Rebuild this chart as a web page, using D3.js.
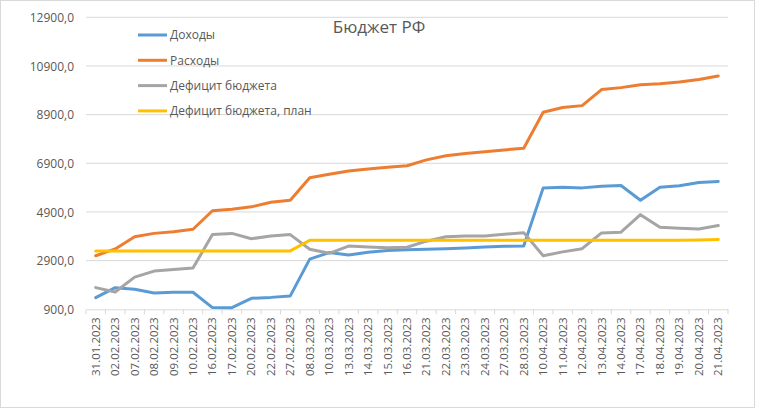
<!DOCTYPE html>
<html><head><meta charset="utf-8">
<script src="https://cdn.jsdelivr.net/npm/d3@7"></script>
<style>body{margin:0;background:#fff;} text{font-family:"Open Sans","Noto Sans",Arial,sans-serif;}</style>
</head><body><svg id="c" width="758" height="410"></svg>
<script>
const categories = ["31.01.2023","02.02.2023","07.02.2023","08.02.2023","09.02.2023","10.02.2023","16.02.2023","17.02.2023","20.02.2023","22.02.2023","27.02.2023","08.03.2023","10.03.2023","13.03.2023","14.03.2023","15.03.2023","16.03.2023","21.03.2023","22.03.2023","23.03.2023","24.03.2023","27.03.2023","28.03.2023","10.04.2023","11.04.2023","12.04.2023","13.04.2023","14.04.2023","17.04.2023","18.04.2023","19.04.2023","20.04.2023","21.04.2023"];
const incomes = [1380,1790,1720,1570,1600,1600,970,965,1350,1390,1450,2960,3230,3130,3240,3320,3350,3370,3390,3420,3460,3490,3500,5890,5920,5890,5960,5990,5380,5920,5980,6110,6150];
const expenses = [3100,3380,3880,4020,4090,4190,4950,5010,5110,5300,5380,6310,6450,6580,6670,6740,6800,7040,7210,7300,7370,7450,7520,9000,9190,9270,9930,10010,10130,10170,10240,10340,10490];
const deficit = [1790,1610,2220,2470,2540,2600,3970,4020,3800,3910,3970,3370,3200,3500,3460,3430,3450,3700,3880,3910,3910,3980,4050,3100,3260,3390,4040,4070,4790,4270,4230,4200,4340];
const deficitPlan = [3300,3300,3300,3300,3300,3300,3300,3300,3300,3300,3300,3740,3740,3740,3740,3740,3740,3740,3740,3740,3740,3740,3740,3740,3740,3740,3740,3740,3740,3740,3740,3750,3770];
const yTicks = [900,2900,4900,6900,8900,10900,12900];
const seriesNames = ["Доходы","Расходы","Дефицит бюджета","Дефицит бюджета, план"];
const seriesColors = ["#5B9BD5","#ED7D31","#A5A5A5","#FFC000"];
const seriesData = [incomes, expenses, deficit, deficitPlan];

const svg = d3.select("#c");
svg.append("rect").attr("x",0.5).attr("y",0.5).attr("width",754).attr("height",407).attr("fill","#fff").attr("stroke","#d9d9d9");

const L=86, R=728, T=17.3, B=309.3;
const x = d3.scaleBand().domain(categories).range([L,R]);
const y = d3.scaleLinear().domain([900,12900]).range([B,T]);
const cx = d => x(d)+x.bandwidth()/2;

// gridlines
svg.append("g").selectAll("line").data(yTicks.slice(1)).join("line")
  .attr("x1",L).attr("x2",R).attr("y1",d=>y(d)).attr("y2",d=>y(d))
  .attr("stroke","#d9d9d9").attr("stroke-width",1);

// y axis labels
const yAxis = d3.axisLeft(y).tickValues(yTicks).tickSize(0).tickPadding(0)
  .tickFormat(d => d.toFixed(1).replace(".",","));
const gy = svg.append("g").attr("transform",`translate(${L-12},0)`).call(yAxis);
gy.select(".domain").remove();
gy.selectAll("text").attr("fill","#595959").style("font-size","12px").attr("dy","0.35em");

// x axis
const xAxis = d3.axisBottom(x).tickSize(0).tickPadding(0);
const gx = svg.append("g").attr("transform",`translate(0,${B})`).call(xAxis);
gx.select(".domain").attr("stroke","#d9d9d9");
gx.selectAll("text").attr("fill","#595959").style("font-size","11.5px")
  .attr("transform","rotate(-90)").attr("text-anchor","end")
  .attr("x",-8).attr("y",0).attr("dy","0.35em");
// boundary ticks
const bounds = categories.map(c=>x(c)).concat([R]);
svg.append("g").selectAll("line").data(bounds).join("line")
  .attr("x1",d=>d).attr("x2",d=>d).attr("y1",B).attr("y2",B+5)
  .attr("stroke","#d9d9d9");

// lines
const line = d3.line().x((d,i)=>cx(categories[i])).y(d=>y(d));
seriesData.forEach((s,k)=>{
  svg.append("path").datum(s).attr("d",line).attr("fill","none")
    .attr("stroke",seriesColors[k]).attr("stroke-width",3)
    .attr("stroke-linejoin","round").attr("stroke-linecap","round");
});

// title
svg.append("text").attr("x",379).attr("y",33).attr("text-anchor","middle")
  .attr("fill","#595959").style("font-size","17px").text("Бюджет РФ");

// legend
const lg = svg.append("g");
seriesNames.forEach((n,i)=>{
  const yy = 35 + i*25.3;
  lg.append("line").attr("x1",138).attr("x2",167).attr("y1",yy).attr("y2",yy)
    .attr("stroke",seriesColors[i]).attr("stroke-width",3);
  lg.append("text").attr("x",170).attr("y",yy).attr("dy","0.35em")
    .attr("fill","#595959").style("font-size","12px").text(n);
});
</script></body></html>
